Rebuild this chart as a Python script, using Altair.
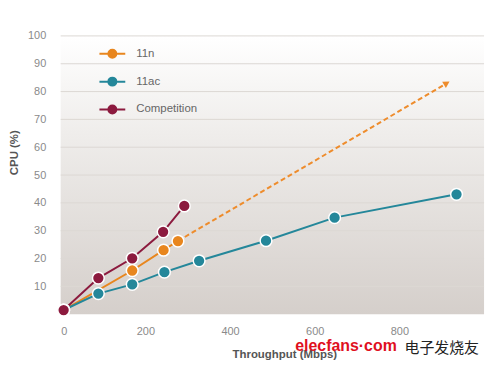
import math
import altair as alt
import pandas as pd

# ---- data ----
series_order = ["11n", "11ac", "Competition"]
series_colors = ["#e8861e", "#24879a", "#8c1a3e"]

n11_x = [7, 169, 243, 277]
n11_y = [1.5, 15.7, 23.0, 26.3]

ac11_x = [7, 89, 169, 245, 327, 485, 647, 935]
ac11_y = [1.5, 7.4, 10.7, 15.1, 19.2, 26.4, 34.7, 43.1]

comp_x = [7, 89, 169, 242, 292]
comp_y = [1.5, 13.0, 20.1, 29.6, 38.9]

proj_x = [277, 912]
proj_y = [26.3, 83.0]

x_ticks = [0, 200, 400, 600, 800]
y_ticks = [10, 20, 30, 40, 50, 60, 70, 80, 90, 100]

# ---- tables ----
rows = []
for name, xs_, ys_ in [("11n", n11_x, n11_y), ("11ac", ac11_x, ac11_y), ("Competition", comp_x, comp_y)]:
    for i, (a, b) in enumerate(zip(xs_, ys_)):
        rows.append({"series": name, "thr": a, "cpu": b, "order": i})
df = pd.DataFrame(rows)
proj = pd.DataFrame({"thr": proj_x, "cpu": proj_y})
tip = proj.tail(1)
grid = pd.DataFrame({"cpu": y_ticks})

W, H = 426, 280
X_DOM, Y_DOM = [0, 1000], [0, 100]
dx = (proj_x[1] - proj_x[0]) * W / (X_DOM[1] - X_DOM[0])
dy = (proj_y[1] - proj_y[0]) * H / (Y_DOM[1] - Y_DOM[0])
arrow_angle = 90 - math.degrees(math.atan2(dy, dx))

FONT = "Liberation Sans"
xs = alt.Scale(domain=X_DOM, nice=False, zero=False)
ys = alt.Scale(domain=Y_DOM, nice=False)
cscale = alt.Scale(domain=series_order, range=series_colors)

x_axis = alt.Axis(
    values=x_ticks, title="Throughput (Mbps)", grid=False, ticks=False, domain=False,
    labelOverlap=False, labelColor="#8a8a8a", labelFontSize=11, labelPadding=11,
    labelFont=FONT, titleFont=FONT, titleFontSize=11.5, titleColor="#555555",
    titleFontWeight="bold", titleX=225, titleY=35)
y_axis = alt.Axis(
    values=y_ticks, title="CPU (%)", grid=False, labelOverlap=False,
    ticks=False, domain=False, labelColor="#8a8a8a", labelFontSize=11, labelPadding=15,
    labelFont=FONT, titleFont=FONT, titleFontSize=11.5, titleColor="#555555",
    titleFontWeight="bold", titleX=-41, titleY=117)

X = lambda: alt.X("thr:Q", scale=xs, axis=x_axis)
Y = lambda: alt.Y("cpu:Q", scale=ys, axis=y_axis)

bg = alt.Chart(pd.DataFrame({"k": [0]})).mark_rect(
    color=alt.LinearGradient(
        gradient="linear", x1=0, x2=0, y1=0, y2=1,
        stops=[alt.GradientStop(offset=0, color="#ffffff"),
               alt.GradientStop(offset=0.35, color="#efedeb"),
               alt.GradientStop(offset=1, color="#d5cfcb")])
).encode(x=alt.value(0), x2=alt.value(W), y=alt.value(0), y2=alt.value(H))

grid_rules = alt.Chart(grid).mark_rule(color="#dcd8d4", strokeWidth=1).encode(y=Y())

legend_path = ("M-2.6,0H-0.8M0.8,0H2.6"
               "M-0.8,0A0.8,0.8,0,1,1,0.8,0A0.8,0.8,0,1,1,-0.8,0Z")
leg = alt.Legend(title=None, orient="none", legendX=46, legendY=12, padding=0,
                 symbolType=legend_path, symbolSize=100, symbolStrokeWidth=2,
                 labelOffset=18, rowPadding=12, labelFont=FONT, labelFontSize=11.5,
                 labelColor="#666666")

lines = alt.Chart(df).mark_line(strokeWidth=2).encode(
    x=X(), y=Y(), order="order:Q",
    color=alt.Color("series:N", scale=cscale, legend=leg))

dash = alt.Chart(proj).mark_line(strokeWidth=2, strokeDash=[5, 3], color="#ee8c2c").encode(
    x=X(), y=Y())

arrow = alt.Chart(tip).mark_point(shape="triangle-up", filled=True, size=55, opacity=1,
                                  color="#ee8c2c", angle=arrow_angle).encode(x=X(), y=Y())

pts = alt.Chart(df).mark_point(filled=True, size=140, opacity=1, stroke="white",
                               strokeWidth=1.5, strokeOpacity=1).encode(
    x=X(), y=Y(),
    fill=alt.Fill("series:N", scale=cscale, legend=leg))

wm1 = alt.Chart(pd.DataFrame({"t": ["elecfans·com"]})).mark_text(
    font=FONT, fontSize=16, fontWeight="bold", color="#e0101e",
    align="left", baseline="alphabetic").encode(
    x=alt.value(236), y=alt.value(317), text="t:N")
wm2 = alt.Chart(pd.DataFrame({"t": ["电子发烧友"]})).mark_text(
    font="Noto Sans CJK SC", fontSize=15, color="#222222", align="left",
    baseline="alphabetic").encode(x=alt.value(346), y=alt.value(319), text="t:N")

chart = alt.layer(bg, grid_rules, lines, dash, arrow, pts, wm1, wm2).properties(
    width=W, height=H,
    autosize=alt.AutoSizeParams(type="none"),
    padding={"left": 53, "top": 27, "right": 8, "bottom": 46},
    background="white",
).configure_view(strokeOpacity=0).configure_axis(labelOverlap=False)

chart.save("out.html", embed_options={"renderer": "svg", "actions": False})
